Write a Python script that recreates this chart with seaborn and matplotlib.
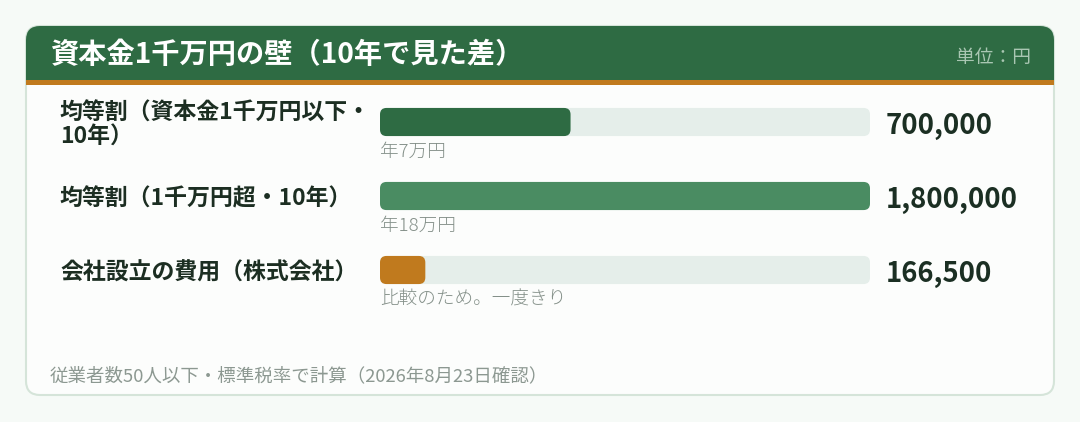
import matplotlib
matplotlib.use('Agg')
import matplotlib.pyplot as plt
import matplotlib.transforms as mtransforms
from matplotlib.patches import FancyBboxPatch, Rectangle
import seaborn as sns
import pandas as pd

# chart data
categories = ["均等割（資本金1千万円以下・\n10年）", "均等割（1千万円超・10年）", "会社設立の費用（株式会社）"]
values = [700000, 1800000, 166500]
notes = ["年7万円", "年18万円", "比較のため。一度きり"]
bar_colors = ["#2e6b43", "#4a8c62", "#c07a1e"]
title = "資本金1千万円の壁（10年で見た差）"
unit = "単位：円"
footer = "従業者数50人以下・標準税率で計算（2026年8月23日確認）"

W, H, DPI = 1080, 422, 100

sns.set_theme(style="white")
plt.rcParams['font.family'] = ['Noto Sans CJK JP', 'DejaVu Sans']

fig = plt.figure(figsize=(W / DPI, H / DPI), dpi=DPI)
fig.patch.set_facecolor("#f6faf7")

# pixel transform, origin top-left
pxt = mtransforms.Affine2D().scale(1 / DPI, -1 / DPI).translate(0, H / DPI) + fig.dpi_scale_trans

# card
fig.patches.append(FancyBboxPatch((26, 26), 1028, 369, boxstyle="round,pad=0,rounding_size=14",
                                  transform=pxt, facecolor="#fcfdfc", edgecolor="#d5e4d9", lw=1.5))
fig.patches.append(FancyBboxPatch((26, 26), 1028, 54, boxstyle="round,pad=0,rounding_size=14",
                                  transform=pxt, facecolor="#2e6b43", edgecolor="none"))
fig.patches.append(Rectangle((26, 55), 1028, 25, transform=pxt, facecolor="#2e6b43", edgecolor="none"))
fig.patches.append(Rectangle((26, 80), 1028, 5, transform=pxt, facecolor="#c07a1e", edgecolor="none"))

fig.text(51, 55, title, transform=pxt, color="white", fontsize=20.3, fontweight="bold", va="center", ha="left")
fig.text(1031, 58, unit, transform=pxt, color="#a9c6b2", fontsize=13.5, va="center", ha="right")
fig.text(50, 376, footer, transform=pxt, color="#8c9891", fontsize=13.3, va="center", ha="left")

# bars
ax = fig.add_axes([380 / W, (H - 307) / H, 490 / W, 222 / H])
ax.set_zorder(3)
ax.set_facecolor("none")
vmax = max(values)
df = pd.DataFrame({"cat": categories, "value": values, "track": [vmax] * len(values)})
sns.barplot(data=df, x="track", y="cat", orient="h", color="#e5eeea", width=0.38, saturation=1, ax=ax)
sns.barplot(data=df, x="value", y="cat", hue="cat", palette=bar_colors, orient="h", width=0.38,
            saturation=1, legend=False, ax=ax)
ax.set_xlim(0, vmax)
ax.set_ylim(len(categories) - 0.5, -0.5)
ax.axis("off")

# swap plain bars for rounded ones (pixel space)
fig.canvas.draw()
bars = list(ax.patches)
for p in bars:
    (x0, y0), (x1, y1) = ax.transData.transform(p.get_bbox().get_points())
    lo, hi = min(y0, y1), max(y0, y1)
    rp = FancyBboxPatch((x0, lo), x1 - x0, hi - lo, boxstyle="round,pad=0,rounding_size=6.5",
                        transform=mtransforms.IdentityTransform(), facecolor=p.get_facecolor(),
                        edgecolor="none", clip_on=False)
    p.set_visible(False)
    ax.add_artist(rp)

lab_tr = mtransforms.blended_transform_factory(pxt, ax.transData)
for i, (cat, val, note) in enumerate(zip(categories, values, notes)):
    ax.annotate(cat, xy=(60, i), xycoords=lab_tr, xytext=(0, -2), textcoords="offset points",
                fontsize=16.5, fontweight="bold", color="#1c2e22", va="center", ha="left", linespacing=1.05)
    ax.annotate(f"{val:,}", xy=(886, i), xycoords=lab_tr, xytext=(0, -2.6), textcoords="offset points",
                fontsize=19.8, fontweight="bold", color="#1b2f23", va="center", ha="left")
    ax.annotate(note, xy=(0, i), xytext=(0, -21.5), textcoords="offset points", fontsize=13.4,
                fontweight="light", color="#838f88", va="center", ha="left")

fig.savefig("out.png", dpi=DPI, facecolor=fig.get_facecolor())
